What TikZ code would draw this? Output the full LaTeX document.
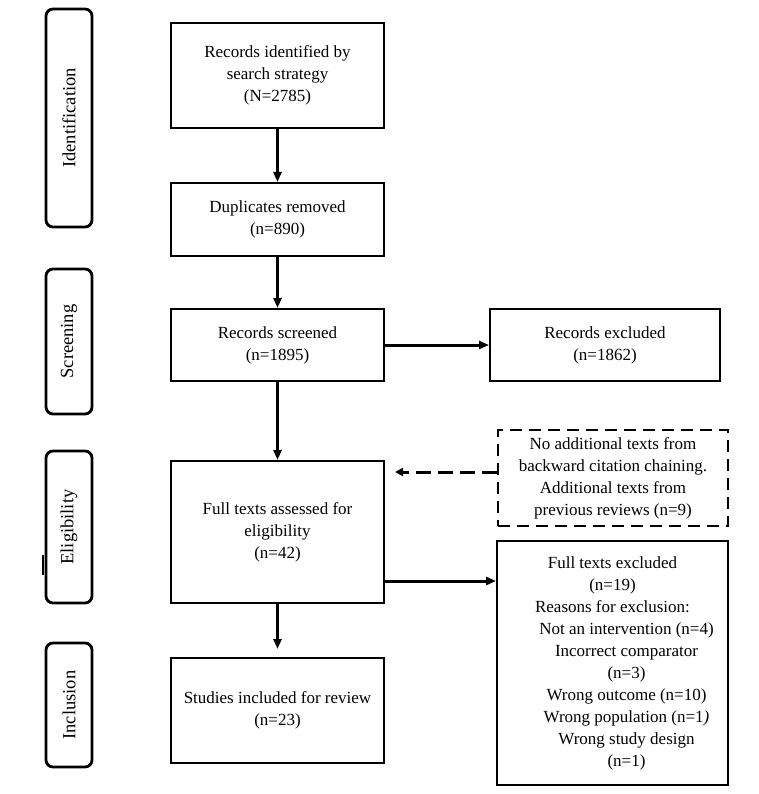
\documentclass[tikz,border=0pt]{standalone}
\usepackage{fontspec}
\setmainfont{Liberation Serif}
\usetikzlibrary{arrows.meta}
\begin{document}
\begin{tikzpicture}[x=1pt,y=-1pt,
  box/.style={draw,line width=2pt,align=center,inner sep=0pt,
    font=\fontsize{17}{22}\selectfont},
  dbox/.style={box,dash pattern=on 12pt off 7pt},
  side/.style={draw,line width=2.8pt,rounded corners=7pt,inner sep=0pt,
    font=\fontsize{18.5}{22}\selectfont},
  arr/.style={line width=3pt,-{Triangle[length=10pt,width=8pt]}},
  darr/.style={line width=3pt,dash pattern=on 15pt off 7pt,-{Triangle[length=8pt,width=8pt]}}]
\useasboundingbox (0,0) rectangle (759,794);
\fill[white] (0,0) rectangle (759,794);

% side labels
\node[side,minimum width=46pt,minimum height=218pt] (sid) at (69,118) {};
\node[rotate=90,font=\fontsize{18.5}{22}\selectfont] (tid) at (sid.center) {Identification};
\node[side,minimum width=46pt,minimum height=145pt] (ssc) at (69,341.5) {};
\node[rotate=90,font=\fontsize{18.5}{22}\selectfont] (tsc) at (ssc.center) {Screening};
\node[side,minimum width=46pt,minimum height=152pt] (sel) at (69,527) {};
\node[rotate=90,font=\fontsize{18.5}{22}\selectfont] (tel) at (sel.center) {Eligibility};
\node[side,minimum width=46pt,minimum height=124pt] (sin) at (69,705) {};
\node[rotate=90,font=\fontsize{18.5}{22}\selectfont] (tin) at (sin.center) {Inclusion};
\draw[line width=2pt] (43,555) -- (43,575);

% main boxes
\node[box,minimum width=213pt,minimum height=105pt] (rec) at (277.5,75.5)
  {Records identified by\\search strategy\\(N=2785)};
\node[box,minimum width=213pt,minimum height=73pt] (dup) at (277.5,219.5)
  {Duplicates removed\\(n=890)};
\node[box,minimum width=213pt,minimum height=72pt] (scr) at (277.5,345)
  {Records screened\\(n=1895)};
\node[box,minimum width=230pt,minimum height=72pt] (exc) at (605,345)
  {Records excluded\\(n=1862)};
\node[box,minimum width=213pt,minimum height=142pt] (full) at (277.5,532)
  {Full texts assessed for\\eligibility\\(n=42)};
\node[dbox,minimum width=230pt,minimum height=96pt] (add) at (613,478)
  {No additional texts from\\backward citation chaining.\\Additional texts from\\previous reviews (n=9)};
\node[box,minimum width=231pt,minimum height=244pt] (ftx) at (612.5,663)
  {Full texts excluded\\(n=19)\\Reasons for exclusion:\\
   \hspace*{28pt}Not an intervention (n=4)\\
   \hspace*{28pt}Incorrect comparator\\
   \hspace*{28pt}(n=3)\\
   \hspace*{28pt}Wrong outcome (n=10)\\
   \hspace*{28pt}Wrong population (n=1\textit{)}\\
   \hspace*{28pt}Wrong study design\\
   \hspace*{28pt}(n=1)};
\node[box,minimum width=213pt,minimum height=105pt] (stu) at (277.5,710.5)
  {Studies included for review\\(n=23)};

% connectors
\coordinate (dtip) at (395,472);
\coordinate (ry) at (0,581);
\draw[arr] (rec) -- (dup);
\draw[arr] (dup) -- (scr);
\draw[arr] (scr) -- (exc);
\draw[arr] (scr) -- (full);
\draw[arr,shorten >=8pt] (full) -- (stu);
\draw[arr] (full.east |- ry) -- (ftx.west |- ry);
\draw[darr] (add.west |- dtip) -- (dtip);
\end{tikzpicture}
\end{document}
